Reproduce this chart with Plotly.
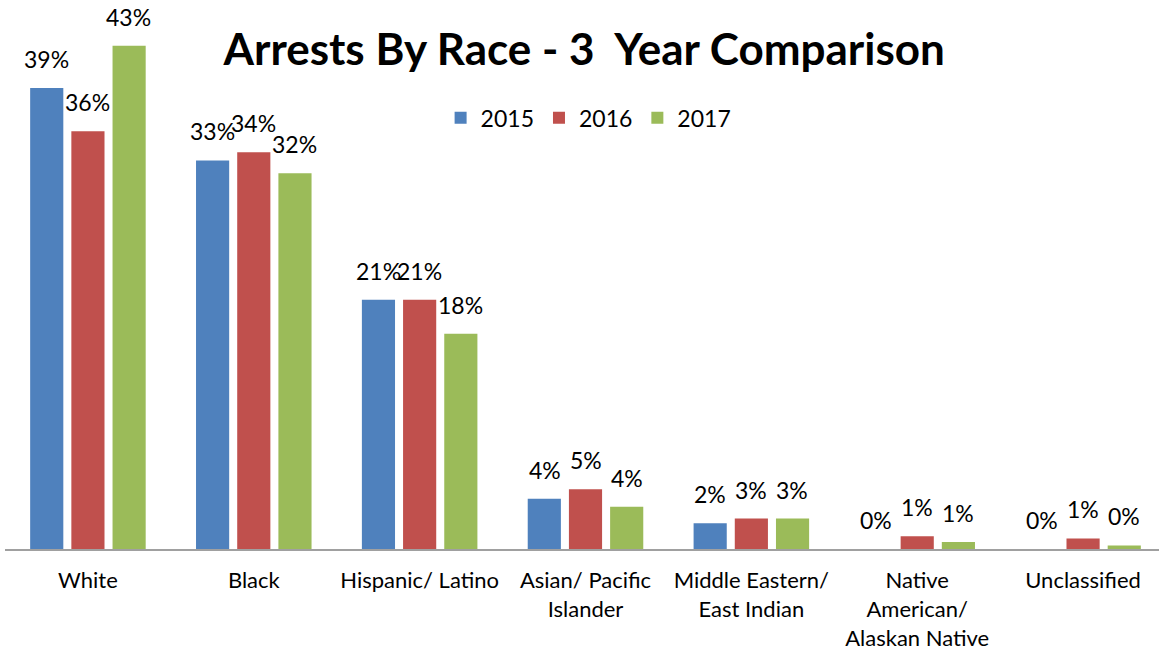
import plotly.graph_objects as go

categories = ["White", "Black", "Hispanic/ Latino", "Asian/ Pacific<br>Islander",
              "Middle Eastern/<br>East Indian", "Native<br>American/<br>Alaskan Native",
              "Unclassified"]
years = ["2015", "2016", "2017"]
v2015 = [0.394, 0.332, 0.213, 0.043, 0.022, 0.000, 0.000]
v2016 = [0.357, 0.339, 0.213, 0.051, 0.026, 0.011, 0.009]
v2017 = [0.430, 0.321, 0.184, 0.036, 0.026, 0.006, 0.003]
colors = ["#4F81BD", "#C0504D", "#9BBB59"]

font_family = "Lato, 'Open Sans', sans-serif"
series = [v2015, v2016, v2017]

fig = go.Figure()
for name, vals, col in zip(years, series, colors):
    fig.add_trace(go.Bar(
        x=categories, y=vals, name=name,
        marker=dict(color=col, line=dict(width=0)),
        cliponaxis=False,
    ))

# value labels above the bars (offset sideways to each bar of the group)
slot_px = 41
for i, vals in enumerate(series):
    for cat, v in zip(categories, vals):
        fig.add_annotation(
            x=cat, y=v, xref="x", yref="y",
            text=f"{v:.0%}", showarrow=False,
            xanchor="center", yanchor="bottom",
            xshift=(i - 1) * slot_px, yshift=13,
            font=dict(size=23, color="black", family=font_family),
        )

fig.update_layout(
    width=1166, height=650,
    paper_bgcolor="white", plot_bgcolor="white",
    margin=dict(l=5, r=0, t=20, b=101, autoexpand=False),
    barmode="group", bargap=0.255, bargroupgap=0.195,
    title=dict(text="<b>Arrests By Race - 3  Year Comparison</b>",
               x=0.501, xanchor="center", y=0.923, yanchor="middle",
               font=dict(size=44, color="black", family=font_family)),
    legend=dict(orientation="h", x=0.3752, xanchor="left", y=0.815, yanchor="middle",
                font=dict(size=23, color="black", family=font_family),
                itemwidth=30, traceorder="normal"),
    xaxis=dict(showline=True, linecolor="#A0A0A0", linewidth=2, ticks="",
               automargin=False, ticklabelstandoff=11,
               tickfont=dict(size=22, color="black", family=font_family)),
    yaxis=dict(range=[0, 0.452], visible=False, showgrid=False, automargin=False),
    showlegend=True,
)

fig.write_html("out.html", config={"displayModeBar": False},
               post_script="document.body.style.margin='0';document.body.style.overflow='hidden';")
